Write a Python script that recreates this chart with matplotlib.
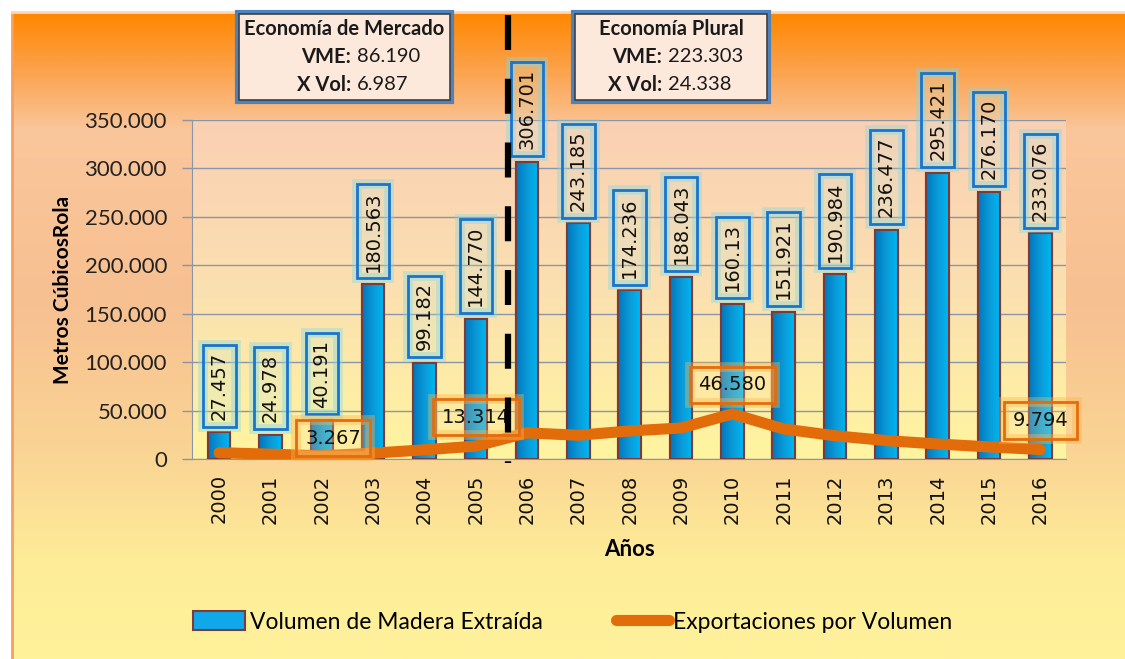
import matplotlib
matplotlib.use("Agg")
import matplotlib.pyplot as plt
import numpy as np
from matplotlib.patches import Rectangle, Patch
from matplotlib.lines import Line2D
from matplotlib.colors import LinearSegmentedColormap

years = ['2000', '2001', '2002', '2003', '2004', '2005', '2006', '2007', '2008',
         '2009', '2010', '2011', '2012', '2013', '2014', '2015', '2016']
volumen = [27457, 24978, 40191, 180563, 99182, 144770, 306701, 243185, 174236,
           188043, 160130, 151921, 190984, 236477, 295421, 276170, 233076]
volumen_labels = ['27.457', '24.978', '40.191', '180.563', '99.182', '144.770', '306.701',
                  '243.185', '174.236', '188.043', '160.13', '151.921', '190.984',
                  '236.477', '295.421', '276.170', '233.076']
exportaciones = [6500, 5000, 3267, 6000, 9500, 13314, 27000, 24500, 29000,
                 32000, 46580, 31000, 24000, 19000, 15500, 12500, 9794]
# only a few points of the line carry a label in the original
export_labeled = {2: '3.267', 5: '13.314', 10: '46.580', 16: '9.794'}
yticks = [0, 50000, 100000, 150000, 200000, 250000, 300000, 350000]
ytick_labels = ['0', '50.000', '100.000', '150.000', '200.000', '250.000', '300.000', '350.000']

W, H = 1125, 659
fig = plt.figure(figsize=(W / 100, H / 100), dpi=100)

# figure background gradient (pixel coordinates)
bg = fig.add_axes([0, 0, 1, 1], zorder=-10)
bg.set_xlim(0, W)
bg.set_ylim(H, 0)
bg.axis('off')
stops = [(0.0, (255, 136, 0)), (0.08, (252, 160, 70)), (0.18, (250, 198, 155)),
         (0.45, (247, 192, 145)), (0.68, (250, 212, 148)), (0.85, (254, 236, 152)),
         (1.0, (255, 242, 155))]
cmap_bg = LinearSegmentedColormap.from_list('bg', [(p, tuple(c / 255 for c in col)) for p, col in stops])
grad = np.linspace(0, 1, 300).reshape(-1, 1)
bg.imshow(grad, cmap=cmap_bg, extent=[12, W, H, 12], aspect='auto', zorder=0)
bg.plot([12, 12], [12, H], color='#F5A060', lw=2, zorder=1)
bg.plot([12, W], [12, 12], color='#F8D9C0', lw=2, zorder=1)

# info boxes at top
def info_box(x0, x1, title, vme, xvol, split):
    bg.add_patch(Rectangle((x0 - 2, 12), x1 - x0 + 4, 90, fc='none', ec='#4F81BD', lw=3, zorder=2))
    bg.add_patch(Rectangle((x0, 14), x1 - x0, 86, fc='#FDE9DC', ec='#404040', lw=1.2, zorder=3))
    kw = dict(fontfamily='Lato', fontsize=14.5, color='#1a1a1a', va='center', zorder=4)
    bg.text((x0 + x1) / 2, 29, title, ha='center', fontweight='bold', **kw)
    bg.text(split, 57, 'VME:', ha='right', fontweight='bold', **kw)
    bg.text(split + 6, 57, vme, ha='left', **kw)
    bg.text(split, 85, 'X Vol:', ha='right', fontweight='bold', **kw)
    bg.text(split + 6, 85, xvol, ha='left', **kw)

info_box(239, 450, 'Economía de Mercado', '86.190', '6.987', 351)
info_box(575, 767, 'Economía Plural', '223.303', '24.338', 662)

# main axes
left, right, bottom, top = 192, 1066, 459, 120
ax = fig.add_axes([left / W, 1 - bottom / H, (right - left) / W, (bottom - top) / H])
ax.set_facecolor('none')

x = np.arange(len(years))
xlim = (-0.53, 16.5)
ylim = (0, 350000)

# plot area gradient: peach at top, light yellow at bottom
cmap_pa = LinearSegmentedColormap.from_list('pa', ['#FAD0B4', '#FBE0B0', '#FFF5A0'])
ax.imshow(np.linspace(0, 1, 200).reshape(-1, 1), cmap=cmap_pa, aspect='auto',
          extent=[xlim[0], xlim[1], ylim[0], ylim[1]], zorder=0)

ax.set_yticks(yticks)
ax.set_yticklabels(ytick_labels)
ax.grid(axis='y', color='#8A96A8', lw=1, zorder=1)
ax.set_axisbelow(False)

bars = ax.bar(x, volumen, width=0.44, color='#10A8E8', edgecolor='#7B3B3B', lw=1.5, zorder=3)
cmap_bar = LinearSegmentedColormap.from_list('bar', ['#0078BE', '#0A9AD8', '#00B8F2'])
hgrad = np.linspace(0, 1, 50).reshape(1, -1)
for b in bars:
    im = ax.imshow(hgrad, cmap=cmap_bar, aspect='auto', zorder=3.5,
                   extent=[b.get_x(), b.get_x() + b.get_width(), 0, b.get_height()])
    im.set_clip_path(b)
    ax.add_patch(Rectangle((b.get_x(), 0), b.get_width(), b.get_height(),
                           fc='none', ec='#7B3B3B', lw=1.5, zorder=3.6))

# bar labels
for i, (v, lab) in enumerate(zip(volumen, volumen_labels)):
    glow = dict(boxstyle='square,pad=0.35', fc=(0.75, 0.9, 0.85, 0.2), ec=(0.5, 0.85, 0.9, 0.4), lw=7)
    ax.annotate(lab, (i, v), xytext=(0, 9), textcoords='offset points', rotation=90,
                ha='center', va='bottom', fontsize=14, color='none', bbox=glow, zorder=5)
    ax.annotate(lab, (i, v), xytext=(0, 9), textcoords='offset points', rotation=90,
                ha='center', va='bottom', fontsize=14, color='#111111', zorder=6,
                bbox=dict(boxstyle='square,pad=0.35', fc='none', ec='#1874CD', lw=2))

# export line
ax.plot(x, exportaciones, color='#E36C0A', lw=8, solid_capstyle='round',
        solid_joinstyle='round', zorder=7)
for i, lab in export_labeled.items():
    dx = 8 if i == 2 else 0
    dy = 6 if i == 2 else 14
    ax.annotate(lab, (i, exportaciones[i]), xytext=(dx, dy), textcoords='offset points',
                ha='center', va='bottom', fontsize=14, color='none', zorder=8,
                bbox=dict(boxstyle='square,pad=0.45', fc=(1, 0.88, 0.6, 0.25), ec=(1, 0.7, 0.3, 0.4), lw=7))
    ax.annotate(lab, (i, exportaciones[i]), xytext=(dx, dy), textcoords='offset points',
                ha='center', va='bottom', fontsize=14, color='#111111', zorder=9,
                bbox=dict(boxstyle='square,pad=0.45', fc='none', ec='#E46C0A', lw=2))

# separator between the two periods, drawn top-down so the dash pattern starts at the top
sep_top = ylim[1] * (bottom - 15) / (bottom - top)
sep_bot = -0.012 * ylim[1]
ax.plot([5.63, 5.63], [sep_top, sep_bot], color='black', lw=4.5,
        linestyle=(0, (5.6, 4.6)), dash_capstyle='butt', clip_on=False, zorder=10)

ax.set_xlim(*xlim)
ax.set_ylim(*ylim)
ax.set_xticks(x)
ax.set_xticklabels(years, rotation=90, fontsize=14, fontfamily='DejaVu Sans', color='#111111')
ax.tick_params(axis='x', length=0, pad=11)
ax.tick_params(axis='y', length=7, width=1, color='#8A96A8', pad=11, labelsize=16)
for t in ax.get_yticklabels():
    t.set_fontfamily('Lato')
    t.set_color('#222222')
for s in ['top', 'right']:
    ax.spines[s].set_visible(False)
ax.spines['left'].set_color('#8A96A8')
ax.spines['bottom'].set_color('#8A96A8')

ax.set_xlabel('Años', fontfamily='Lato', fontweight='bold', fontsize=16, labelpad=11)
ax.set_ylabel('Metros CúbicosRola', fontfamily='Lato', fontweight='bold', fontsize=15, labelpad=8)

handles = [Patch(fc='#10A8E8', ec='#7B3B3B', lw=1.5),
           Line2D([0], [0], color='#E36C0A', lw=8, solid_capstyle='round')]
fig.legend(handles, ['Volumen de Madera Extraída', 'Exportaciones por Volumen'],
           loc='center', bbox_to_anchor=(0.509, 0.056), ncol=2, frameon=False,
           prop={'family': 'Lato', 'size': 16.5}, handlelength=2.3, handleheight=0.9,
           handletextpad=0.2, columnspacing=3.2)

fig.savefig('out.png', dpi=100)
